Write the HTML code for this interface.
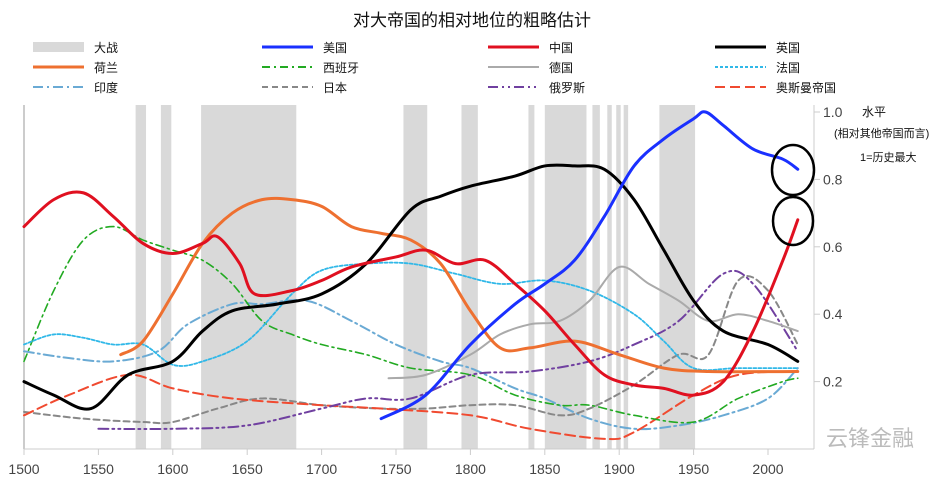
<!DOCTYPE html>
<html><head><meta charset="utf-8"><style>
body{margin:0;background:#fff;font-family:"Liberation Sans","Noto Sans CJK SC",sans-serif;}
svg text{font-family:"Liberation Sans","Noto Sans CJK SC",sans-serif;}
</style></head><body>
<svg id="chart" width="947" height="485" xmlns="http://www.w3.org/2000/svg">
<text x="472" y="26" text-anchor="middle" font-size="17" fill="#111">对大帝国的相对地位的粗略估计</text>
<g id="bands"></g>
<g id="axes"></g>
<g id="series"></g>
<g id="legend"></g>
<ellipse cx="793" cy="170" rx="21" ry="25" fill="none" stroke="#000" stroke-width="2.5"/>
<ellipse cx="793" cy="221" rx="20" ry="24" fill="none" stroke="#000" stroke-width="2.5"/>
<text x="862" y="116" font-size="12" fill="#111">水平</text>
<text x="834" y="137" font-size="11" fill="#111">(相对其他帝国而言)</text>
<text x="860" y="161" font-size="11" fill="#111">1=历史最大</text>
<text x="826" y="446" font-size="22" fill="#bbb">云锋金融</text>
</svg>
<script>
const xTicks=[1500,1550,1600,1650,1700,1750,1800,1850,1900,1950,2000];
const yTicks=[0.2,0.4,0.6,0.8,1.0];
const yTickLabels=["0.2","0.4","0.6","0.8","1.0"];
const wars=[[1575,1582],[1592,1599],[1619,1683],[1755,1771],[1794,1805],[1839,1843],[1850,1878],[1882,1887],[1892,1895],[1898,1901],[1903,1906],[1927,1951]];
const usY=[1740,1770,1800,1830,1850,1870,1890,1910,1930,1950,1958,1970,1990,2010,2020];
const usV=[0.09,0.16,0.31,0.43,0.49,0.56,0.69,0.84,0.92,0.98,1.0,0.96,0.89,0.86,0.83];
const cnY=[1500,1520,1540,1560,1580,1600,1620,1630,1645,1655,1680,1700,1720,1750,1770,1790,1810,1830,1850,1870,1890,1910,1930,1950,1970,1990,2010,2020];
const cnV=[0.66,0.74,0.76,0.69,0.61,0.58,0.61,0.63,0.55,0.46,0.47,0.5,0.54,0.57,0.59,0.55,0.56,0.49,0.41,0.31,0.22,0.19,0.18,0.16,0.2,0.35,0.56,0.68];
const ukY=[1500,1520,1545,1570,1600,1620,1640,1670,1700,1730,1760,1780,1800,1830,1850,1870,1890,1910,1930,1950,1970,2000,2020];
const ukV=[0.2,0.16,0.12,0.22,0.26,0.35,0.41,0.43,0.46,0.55,0.71,0.75,0.78,0.81,0.84,0.84,0.83,0.74,0.59,0.44,0.35,0.31,0.26];
const nlY=[1565,1580,1600,1620,1640,1660,1680,1700,1720,1740,1760,1780,1800,1820,1840,1870,1900,1930,1960,2020];
const nlV=[0.28,0.32,0.46,0.61,0.7,0.74,0.74,0.72,0.66,0.64,0.62,0.55,0.41,0.3,0.3,0.32,0.28,0.24,0.23,0.23];
const deY=[1745,1770,1800,1820,1840,1860,1880,1900,1920,1940,1960,1980,2000,2020];
const deV=[0.21,0.22,0.28,0.34,0.37,0.38,0.44,0.54,0.49,0.44,0.38,0.4,0.38,0.35];
const frY=[1500,1520,1540,1560,1580,1600,1620,1650,1680,1700,1730,1760,1790,1820,1850,1880,1910,1930,1950,1980,2020];
const frV=[0.31,0.34,0.33,0.31,0.31,0.25,0.26,0.32,0.46,0.53,0.55,0.55,0.52,0.49,0.5,0.47,0.4,0.32,0.24,0.24,0.24];
const esY=[1500,1520,1540,1560,1580,1600,1620,1640,1660,1680,1700,1730,1760,1800,1830,1860,1880,1910,1950,1980,2010,2020];
const esV=[0.26,0.47,0.62,0.66,0.62,0.59,0.56,0.49,0.38,0.34,0.31,0.28,0.24,0.22,0.16,0.13,0.13,0.1,0.08,0.15,0.2,0.21];
const inY=[1500,1530,1560,1590,1610,1640,1660,1690,1720,1750,1780,1800,1830,1850,1880,1910,1940,1970,2000,2020];
const inV=[0.29,0.27,0.26,0.29,0.37,0.43,0.43,0.44,0.38,0.31,0.26,0.24,0.18,0.15,0.09,0.06,0.07,0.1,0.15,0.24];
const jpY=[1500,1540,1580,1600,1630,1660,1700,1740,1770,1800,1830,1860,1880,1910,1940,1960,1980,2000,2020];
const jpV=[0.11,0.09,0.08,0.08,0.12,0.15,0.13,0.12,0.12,0.13,0.13,0.1,0.12,0.19,0.28,0.28,0.5,0.47,0.31];
const ruY=[1550,1600,1650,1700,1730,1760,1800,1840,1880,1910,1940,1970,1990,2020];
const ruV=[0.06,0.06,0.07,0.12,0.15,0.15,0.22,0.23,0.26,0.31,0.38,0.52,0.49,0.29];
const otY=[1500,1530,1570,1600,1640,1700,1740,1800,1840,1890,1910,1950,1980,2020];
const otV=[0.1,0.16,0.22,0.18,0.15,0.13,0.12,0.1,0.06,0.03,0.05,0.16,0.22,0.23];

const X=y=>24+(y-1500)*74.4/50, Y=v=>449-v*337;
const NS="http://www.w3.org/2000/svg";
function mk(tag,attrs,parent){const e=document.createElementNS(NS,tag);for(const k in attrs)e.setAttribute(k,attrs[k]);parent.appendChild(e);return e;}
const bands=document.getElementById('bands'),axes=document.getElementById('axes'),series=document.getElementById('series'),legend=document.getElementById('legend');
wars.forEach(w=>{const r=mk('rect',{x:X(w[0]),y:105,width:X(w[1])-X(w[0]),height:344,fill:'#d9d9d9'},bands);

});
mk('line',{x1:24,y1:105,x2:24,y2:449,stroke:'#999','stroke-width':1},axes);
mk('line',{x1:24,y1:449,x2:814,y2:449,stroke:'#ccc','stroke-width':1},axes);
mk('line',{x1:814,y1:105,x2:814,y2:449,stroke:'#ccc','stroke-width':1},axes);
xTicks.forEach(t=>{mk('line',{x1:X(t),y1:449,x2:X(t),y2:455,stroke:'#ccc'},axes);
const tx=mk('text',{x:X(t),y:474,'text-anchor':'middle','font-size':14,fill:'#444'},axes);tx.textContent=t;

});
yTicks.forEach((t,i)=>{mk('line',{x1:814,y1:Y(t),x2:820,y2:Y(t),stroke:'#ccc'},axes);
const tx=mk('text',{x:823,y:Y(t)+5,'font-size':14,fill:'#444'},axes);tx.textContent=yTickLabels[i];

});
function path(ys,vs){const p=ys.map((y,i)=>[X(y),Y(vs[i])]);let d='M'+p[0][0]+','+p[0][1];
for(let i=0;i<p.length-1;i++){const p0=p[i-1]||p[i],p1=p[i],p2=p[i+1],p3=p[i+2]||p2;
d+=' C'+(p1[0]+(p2[0]-p0[0])/6)+','+(p1[1]+(p2[1]-p0[1])/6)+' '+(p2[0]-(p3[0]-p1[0])/6)+','+(p2[1]-(p3[1]-p1[1])/6)+' '+p2[0]+','+p2[1];}return d;}
const defs=[
['印度',inY,inV,'#6aaad4',2,'10 4 2 4'],['日本',jpY,jpV,'#888',2,'6 4'],['奥斯曼帝国',otY,otV,'#f04a30',2,'10 5'],
['俄罗斯',ruY,ruV,'#7040a0',2,'10 4 2 4 2 4'],['西班牙',esY,esV,'#22aa22',1.6,'8 4 2 4'],['法国',frY,frV,'#30b8e8',1.8,'3 2'],
['德国',deY,deV,'#aaa',2,''],['荷兰',nlY,nlV,'#ee7030',3,''],['英国',ukY,ukV,'#000',3,''],['中国',cnY,cnV,'#e01020',3,''],['美国',usY,usV,'#1a30ff',3,'']];
defs.forEach(s=>{const p=mk('path',{d:path(s[1],s[2]),fill:'none',stroke:s[3],'stroke-width':s[4],'stroke-dasharray':s[5],'stroke-linecap':'round'},series);

});
const leg=[['大战','#d9d9d9',10,''],['美国','#1a30ff',3,''],['中国','#e01020',3,''],['英国','#000',3,''],
['荷兰','#ee7030',3,''],['西班牙','#22aa22',2,'8 4 2 4'],['德国','#aaa',2,''],['法国','#30b8e8',2,'3 2'],
['印度','#6aaad4',2,'10 4 2 4'],['日本','#888',2,'6 4'],['俄罗斯','#7040a0',2,'10 4 2 4 2 4'],['奥斯曼帝国','#f04a30',2,'10 5']];
const cols=[33,262,488,715],rows=[47,67,87];
leg.forEach((l,i)=>{const cx=cols[i%4],cy=rows[Math.floor(i/4)];
const g=mk('g',{},legend);


mk('line',{x1:cx,y1:cy,x2:cx+51,y2:cy,stroke:l[1],'stroke-width':l[2],'stroke-dasharray':l[3]},g);
const t=mk('text',{x:cx+61,y:cy+5,'font-size':12,fill:'#111'},g);t.textContent=l[0];});
</script>
</body></html>
